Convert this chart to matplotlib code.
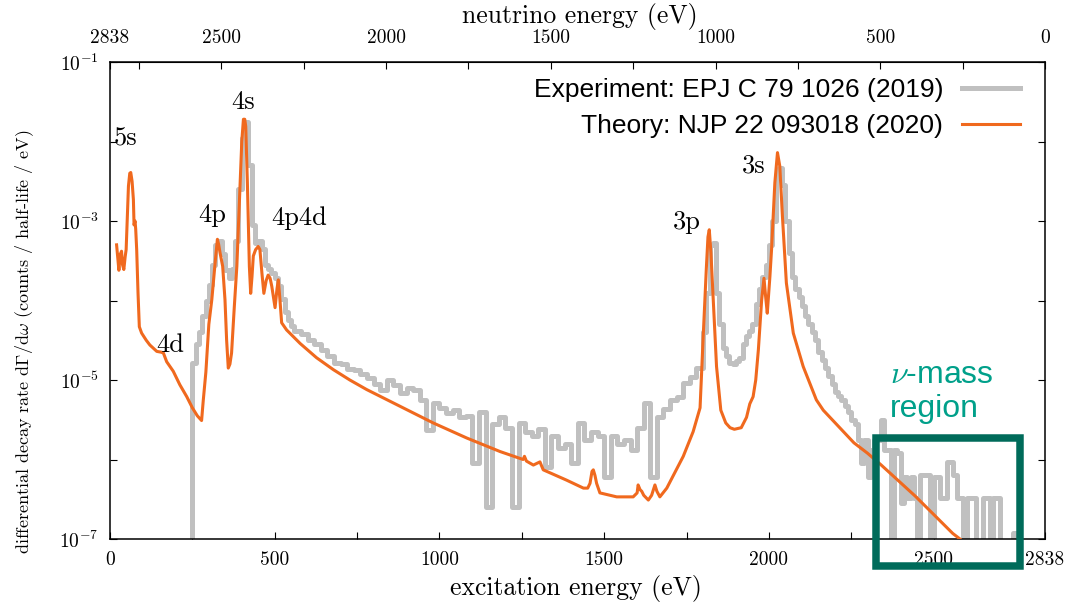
import numpy as np
import matplotlib.pyplot as plt
from matplotlib.patches import Rectangle
from matplotlib.ticker import NullLocator

plt.rcParams['font.family'] = 'serif'
plt.rcParams['font.serif'] = ['cmr10']
plt.rcParams['mathtext.fontset'] = 'cm'
plt.rcParams['axes.formatter.use_mathtext'] = True

# theory curve: excitation energy (eV) and log10 of the rate
theory_energy = [20, 27, 31, 35, 38, 42, 46, 49, 53, 56, 60, 63, 67, 71, 73, 76, 78, 81, 85, 89,
                 96, 110, 121, 142, 155, 162, 172, 192, 212, 233, 250, 265, 278, 283, 291, 300,
                 309, 319, 326, 330, 334, 342, 349, 354, 359, 364, 369, 377, 385, 395, 400, 405,
                 409, 412, 417, 423, 427, 431, 435, 442, 450, 455, 461, 467, 474, 480, 486, 491,
                 501, 507, 511, 516, 521, 536, 577, 627, 678, 728, 779, 880, 981, 1083, 1184,
                 1254, 1258, 1264, 1285, 1300, 1305, 1315, 1386, 1437, 1450, 1457, 1463, 1467,
                 1472, 1477, 1487, 1538, 1588, 1600, 1603, 1609, 1614, 1620, 1634, 1644, 1654,
                 1660, 1669, 1690, 1710, 1740, 1770, 1791, 1801, 1810, 1815, 1819, 1824, 1831,
                 1841, 1854, 1869, 1882, 1895, 1916, 1932, 1942, 1952, 1960, 1968, 1978, 1985,
                 1990, 1995, 2003, 2008, 2018, 2026, 2033, 2041, 2053, 2074, 2104, 2144, 2165,
                 2206, 2258, 2299, 2341, 2444, 2558, 2580]
theory_log = [-3.30, -3.62, -3.42, -3.38, -3.55, -3.61, -3.45, -3.36, -2.90, -2.56, -2.40, -2.39,
              -2.50, -2.73, -3.05, -3.00, -3.10, -3.36, -3.90, -4.33, -4.41, -4.50, -4.56, -4.64,
              -4.65, -4.66, -4.77, -4.89, -5.06, -5.21, -5.35, -5.45, -5.51, -5.26, -4.90, -4.30,
              -3.99, -3.53, -3.23, -3.30, -3.40, -3.57, -3.99, -4.50, -4.85, -4.80, -4.66, -4.10,
              -3.57, -2.52, -2.00, -1.72, -1.72, -1.81, -2.52, -3.57, -3.91, -3.70, -3.44, -3.36,
              -3.32, -3.36, -3.65, -3.91, -3.75, -3.68, -3.72, -3.82, -4.09, -3.85, -3.74, -4.00,
              -4.28, -4.37, -4.54, -4.72, -4.87, -5.00, -5.12, -5.33, -5.54, -5.73, -5.90,
              -6.00, -5.96, -6.02, -6.07, -6.04, -6.03, -6.13, -6.26, -6.36, -6.36, -6.30, -6.15,
              -6.13, -6.20, -6.30, -6.42, -6.47, -6.47, -6.42, -6.32, -6.38, -6.40, -6.45, -6.51,
              -6.45, -6.32, -6.40, -6.47, -6.36, -6.20, -5.96, -5.65, -5.35, -4.41, -3.60, -3.20,
              -3.11, -3.40, -3.99, -4.83, -5.38, -5.54, -5.60, -5.62, -5.60, -5.47, -5.30, -5.21,
              -5.00, -4.62, -3.99, -3.72, -3.95, -4.16, -3.70, -3.36, -2.52, -2.14, -2.31, -2.94,
              -3.78, -4.41, -4.83, -5.25, -5.38, -5.56, -5.79, -5.92, -6.07, -6.46, -6.93, -7.00]

# experiment histogram: bin edges (eV) and log10 of the counts (-9 = empty bin)
exp_edges = [240] + list(range(250, 560, 10)) + list(range(560, 1800, 20)) + list(range(1800, 2770, 10))
exp_log = [
    -9,
    -4.78, -4.55, -4.40, -4.20, -4.00, -3.80, -3.55, -3.30, -3.25, -3.42,
    -3.62, -3.72, -3.60, -3.25, -2.60, -1.95, -1.76, -2.30, -3.05, -3.28,
    -3.25, -3.35, -3.55, -3.60, -3.65, -3.72, -3.82, -3.98, -4.15, -4.25,
    -4.32,
    # 20 eV bins from 560
    -4.38, -4.42, -4.50, -4.55, -4.62, -4.70, -4.78, -4.80, -4.86, -4.88,
    -4.93, -4.97, -5.05, -5.12, -5.00, -5.06, -5.16, -5.10, -5.12, -5.25,
    -5.63, -5.29, -5.35, -5.42, -5.38, -5.46, -5.45, -6.05, -5.40, -6.60,
    -5.55, -5.46, -5.60, -6.60, -5.54, -5.65, -5.71, -5.62, -6.09, -5.70,
    -5.85, -5.80, -6.05, -5.54, -5.75, -5.65, -5.71, -6.22, -5.71, -5.80,
    -5.75, -5.88, -5.60, -5.29, -6.22, -5.46, -5.37, -5.25, -5.21, -5.04,
    -4.96, -4.85,
    # 10 eV bins from 1800
    -4.40, -3.90, -3.30, -3.28, -3.90, -4.30, -4.60, -4.70, -4.78, -4.80,
    -4.76, -4.72, -4.55, -4.45, -4.38, -4.30, -4.05, -3.85, -3.70, -3.55,
    -3.30, -3.00, -2.45, -2.33, -2.55, -3.00, -3.40, -3.70, -3.85, -3.95,
    -4.07, -4.20, -4.30, -4.40, -4.50, -4.65, -4.75, -4.85, -4.95, -5.05,
    -5.15, -5.20, -5.25, -5.33, -5.40, -5.50, -5.55, -5.75, -6.05, -5.75,
    -6.22, -5.88, -5.75, -5.75, -5.50, -5.88, -5.88, -9, -5.88, -5.92,
    -6.55, -6.22, -6.49, -6.22, -6.49, -9, -6.19, -6.19, -6.19, -9,
    -6.22, -6.22, -6.49, -6.49, -6.03, -6.03, -6.19, -6.49, -6.49, -9,
    -6.49, -6.49, -6.49, -9, -9, -6.49, -6.49, -9, -6.49, -6.49,
    -9, -9, -9, -9, -6.93, -9,
]

peak_names = ['5s', '4s', '4p', '4p4d', '4d', '3p', '3s']
peak_energy = [48, 404, 311, 573, 184, 1751, 1954]
peak_log = [-1.96, -1.51, -2.92, -2.97, -4.56, -3.01, -2.30]

ex_ticks = [0, 250, 500, 750, 1000, 1250, 1500, 1750, 2000, 2250, 2500, 2750, 2838]
ex_labels = ['0', '', '500', '', '1000', '', '1500', '', '2000', '', '2500', '', '2838']
nu_ticks = [2838, 2750, 2500, 2250, 2000, 1750, 1500, 1250, 1000, 750, 500, 250, 0]
nu_labels = ['2838', '', '2500', '', '2000', '', '1500', '', '1000', '', '500', '', '0']
y_ticks = [1e-7, 1e-6, 1e-5, 1e-4, 1e-3, 1e-2, 1e-1]
y_labels = ['$10^{-7}$', '', '$10^{-5}$', '', '$10^{-3}$', '', '$10^{-1}$']

orange = '#f0691e'
grey = '#c0c0c0'

fig = plt.figure(figsize=(10.75, 6.04), dpi=100)
ax = fig.add_axes([110 / 1075, 1 - 539 / 604, 935 / 1075, 477 / 604])

exp_vals = 10 ** np.array(exp_log + [exp_log[-1]])
ax.step(exp_edges, exp_vals, where='post', color=grey, lw=3.6,
        label='Experiment: EPJ C 79 1026 (2019)', zorder=2)
ax.plot(theory_energy, 10 ** np.array(theory_log), color=orange, lw=2.2,
        label='Theory: NJP 22 093018 (2020)', zorder=3)

ax.set_yscale('log')
ax.set_xlim(0, 2838)
ax.set_ylim(1e-7, 1e-1)
ax.set_xticks(ex_ticks, ex_labels)
ax.set_yticks(y_ticks, y_labels)
ax.yaxis.set_minor_locator(NullLocator())
ax.tick_params(direction='in', length=5, width=0.8, labelsize=14, top=False, right=True)
ax.tick_params(axis='x', pad=9)
ax.tick_params(axis='y', pad=8)
for s in ax.spines.values():
    s.set_linewidth(1.1)

top = ax.secondary_xaxis('top', functions=(lambda e: 2838 - e, lambda e: 2838 - e))
top.set_xticks(nu_ticks, nu_labels)
top.tick_params(direction='in', length=5, width=0.8, labelsize=14, pad=11)

for name, e, lg in zip(peak_names, peak_energy, peak_log):
    ax.text(e, 10 ** lg, name, fontsize=19, ha='center', va='center')

ax.legend(loc='upper right', bbox_to_anchor=(0.973, 0.966), frameon=False, markerfirst=False,
          prop={'family': 'Liberation Sans', 'size': 19}, handlelength=2.2, handletextpad=0.7,
          labelspacing=0.45, borderpad=0, borderaxespad=0)

fig.text(576 / 1075, 1 - 588 / 604, 'excitation energy (eV)', fontsize=18.5, ha='center', va='center')
fig.text(580 / 1075, 1 - 17 / 604, 'neutrino energy (eV)', fontsize=18.5, ha='center', va='center')
fig.text(25 / 1075, 1 - 342 / 604,
         r'differential decay rate d$\Gamma$/d$\omega$ (counts / half-life / eV)',
         fontsize=13, rotation=90, ha='center', va='center')

# neutrino mass window
fig.text(890 / 1075, 1 - 383 / 604, r'$\nu$-mass', color='#00a08a', fontsize=23,
         family='Liberation Sans', ha='left', va='baseline')
fig.text(890 / 1075, 1 - 417 / 604, 'region', color='#00a08a', fontsize=23,
         family='Liberation Sans', ha='left', va='baseline')
fig.add_artist(Rectangle((876 / 1075, 1 - 566 / 604), 144 / 1075, 128 / 604,
                         transform=fig.transFigure, fill=False, ec='#006b5a', lw=5.4,
                         clip_on=False, zorder=10))

fig.savefig('out.png', dpi=100)
